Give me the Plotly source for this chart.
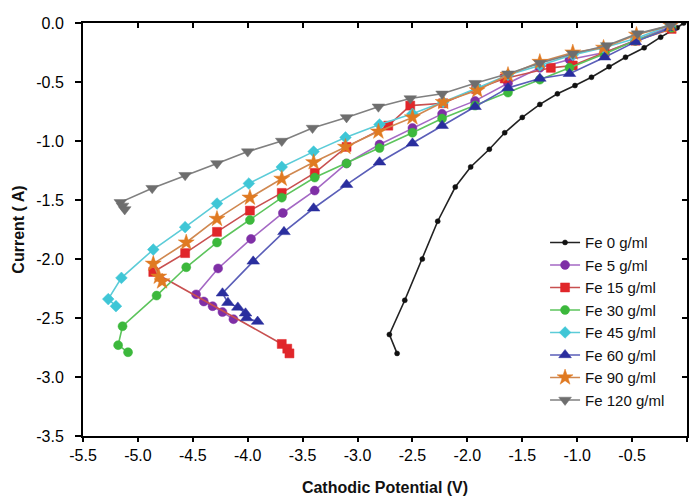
import plotly.graph_objects as go

names = ["Fe 0 g/ml", "Fe 5 g/ml", "Fe 15 g/ml", "Fe 30 g/ml",
         "Fe 45 g/ml", "Fe 60 g/ml", "Fe 90 g/ml", "Fe 120 g/ml"]

fe0_v = [-0.03, -0.09, -0.24, -0.39, -0.56, -0.71, -0.87, -1.02, -1.18, -1.34, -1.50,
         -1.66, -1.80, -1.97, -2.11, -2.27, -2.41, -2.57, -2.71, -2.64]
fe0_i = [0.00, -0.04, -0.12, -0.21, -0.29, -0.37, -0.46, -0.53, -0.60, -0.69, -0.80,
         -0.93, -1.07, -1.22, -1.39, -1.68, -2.00, -2.35, -2.64, -2.80]

fe5_v = [-0.15, -0.47, -0.75, -1.07, -1.34, -1.63, -1.93, -2.23, -2.50, -2.80, -3.10,
         -3.39, -3.68, -3.97, -4.27, -4.47, -4.40, -4.32, -4.23, -4.13]
fe5_i = [-0.03, -0.15, -0.25, -0.31, -0.38, -0.51, -0.66, -0.77, -0.89, -1.03, -1.19,
         -1.42, -1.61, -1.83, -2.08, -2.30, -2.36, -2.40, -2.45, -2.51]

fe15_v = [-0.14, -0.47, -0.75, -1.04, -1.24, -1.66, -1.92, -2.22, -2.52, -2.72, -3.10,
          -3.39, -3.69, -3.98, -4.28, -4.57, -4.86, -3.69, -3.64, -3.62]
fe15_i = [-0.05, -0.15, -0.25, -0.36, -0.38, -0.47, -0.56, -0.68, -0.70, -0.87, -1.05,
          -1.27, -1.44, -1.59, -1.77, -1.95, -2.11, -2.72, -2.76, -2.80]

fe30_v = [-0.14, -0.47, -0.75, -1.07, -1.34, -1.63, -1.93, -2.23, -2.50, -2.80, -3.10,
          -3.39, -3.69, -3.98, -4.28, -4.56, -4.83, -5.14, -5.18, -5.09]
fe30_i = [-0.04, -0.15, -0.26, -0.38, -0.48, -0.59, -0.70, -0.81, -0.93, -1.06, -1.19,
          -1.31, -1.48, -1.67, -1.86, -2.07, -2.31, -2.57, -2.73, -2.79]

fe45_v = [-0.15, -0.46, -0.76, -1.04, -1.34, -1.63, -1.91, -2.22, -2.50, -2.80, -3.11,
          -3.40, -3.69, -3.99, -4.28, -4.57, -4.86, -5.15, -5.27, -5.20]
fe45_i = [-0.02, -0.13, -0.21, -0.27, -0.36, -0.44, -0.55, -0.67, -0.77, -0.86, -0.97,
          -1.09, -1.22, -1.36, -1.53, -1.73, -1.92, -2.16, -2.34, -2.40]

fe60_v = [-0.15, -0.47, -0.75, -1.07, -1.34, -1.63, -1.93, -2.23, -2.50, -2.80, -3.10,
          -3.40, -3.67, -3.95, -4.23, -4.18, -4.09, -4.02, -4.01, -3.91]
fe60_i = [-0.04, -0.16, -0.29, -0.43, -0.47, -0.55, -0.71, -0.87, -1.02, -1.18, -1.37,
          -1.57, -1.77, -2.02, -2.29, -2.37, -2.41, -2.46, -2.50, -2.53]

fe90_v = [-0.15, -0.46, -0.76, -1.04, -1.34, -1.63, -1.91, -2.22, -2.50, -2.81, -3.11,
          -3.40, -3.69, -3.98, -4.28, -4.56, -4.86, -4.81, -4.78]
fe90_i = [-0.02, -0.10, -0.21, -0.25, -0.33, -0.44, -0.57, -0.67, -0.80, -0.92, -1.05,
          -1.18, -1.32, -1.48, -1.66, -1.86, -2.04, -2.15, -2.19]

fe120_v = [-0.15, -0.45, -0.73, -1.04, -1.34, -1.63, -1.93, -2.23, -2.52, -2.81, -3.10,
           -3.41, -3.69, -4.00, -4.28, -4.57, -4.87, -5.16, -5.14, -5.12]
fe120_i = [-0.02, -0.09, -0.19, -0.26, -0.34, -0.43, -0.51, -0.60, -0.64, -0.71, -0.80,
           -0.89, -1.00, -1.09, -1.19, -1.29, -1.40, -1.52, -1.55, -1.58]

x_ticks = [-5.5, -5.0, -4.5, -4.0, -3.5, -3.0, -2.5, -2.0, -1.5, -1.0, -0.5, 0.0]
y_ticks = [-3.5, -3.0, -2.5, -2.0, -1.5, -1.0, -0.5, 0.0]

series = [
    (fe0_v, fe0_i, "#111111", "#222222", "circle", 5),
    (fe5_v, fe5_i, "#7F2FA6", "#A468C4", "circle", 9),
    (fe15_v, fe15_i, "#E0262A", "#C85050", "square", 9),
    (fe30_v, fe30_i, "#3CB83C", "#5CC45C", "circle", 9),
    (fe45_v, fe45_i, "#3FC6D6", "#5CCCD8", "diamond", 9),
    (fe60_v, fe60_i, "#2A2E9E", "#5A5EB8", "triangle-up", 11),
    (fe90_v, fe90_i, "#E07A22", "#D08850", "star", 12),
    (fe120_v, fe120_i, "#6E6E6E", "#808080", "triangle-down", 11),
]

fig = go.Figure()
for name, (vx, iy, mcol, lcol, sym, size) in zip(names, series):
    fig.add_trace(go.Scatter(
        x=vx, y=iy, name=name, mode="lines+markers",
        line=dict(color=lcol, width=1.6),
        marker=dict(color=mcol, symbol=sym, size=size,
                    line=dict(color=mcol, width=0.5)),
    ))

# invisible trace for the mirrored (inward-tick) top/right axes
fig.add_trace(go.Scatter(x=[-5.5], y=[-3.5], xaxis="x2", yaxis="y2",
                         mode="markers", marker=dict(opacity=0),
                         showlegend=False, hoverinfo="skip"))

FONT = "Liberation Sans, Arial, sans-serif"
tickfont = dict(family=FONT, size=16, color="#000000")

# the page body adds an 8px margin, so the figure is sized to fill the rest
fig.update_layout(
    width=690, height=493,
    margin=dict(l=75, r=11, t=15, b=65),
    paper_bgcolor="white", plot_bgcolor="white",
    showlegend=True,
    legend=dict(x=0.765, y=0.508, xanchor="left", yanchor="top",
                bgcolor="rgba(0,0,0,0)", borderwidth=0,
                font=dict(family=FONT, size=15, color="#111111"),
                itemwidth=30, tracegroupgap=0),
    xaxis=dict(range=[-5.5, 0.0], tickvals=x_ticks, ticktext=[f"{v:.1f}" for v in x_ticks],
               showgrid=False, zeroline=False, showline=True, linecolor="black", linewidth=2,
               ticks="outside", ticklen=4, tickwidth=2, tickcolor="black",
               tickfont=tickfont, automargin=False,
               title=dict(text="<b>Cathodic Potential (V)</b>", standoff=19,
                          font=dict(family=FONT, size=16, color="#111111"))),
    yaxis=dict(range=[-3.5, 0.0], tickvals=y_ticks, ticktext=[f"{v:.1f}" for v in y_ticks],
               showgrid=False, zeroline=False, showline=True, linecolor="black", linewidth=2,
               ticks="outside", ticklen=6, tickwidth=2, tickcolor="black",
               tickfont=tickfont, automargin=False, ticklabelstandoff=8,
               title=dict(text="<b>Current ( A)</b>", standoff=8,
                          font=dict(family=FONT, size=16, color="#111111"))),
    xaxis2=dict(range=[-5.5, 0.0], overlaying="x", side="top", tickvals=x_ticks,
                showticklabels=False, showgrid=False, zeroline=False, showline=True,
                linecolor="black", linewidth=1.5, ticks="inside", ticklen=5, tickwidth=1.5,
                tickcolor="black", automargin=False),
    yaxis2=dict(range=[-3.5, 0.0], overlaying="y", side="right", tickvals=y_ticks,
                showticklabels=False, showgrid=False, zeroline=False, showline=True,
                linecolor="black", linewidth=1.5, ticks="inside", ticklen=5, tickwidth=1.5,
                tickcolor="black", automargin=False),
)

fig.write_html("out.html")
